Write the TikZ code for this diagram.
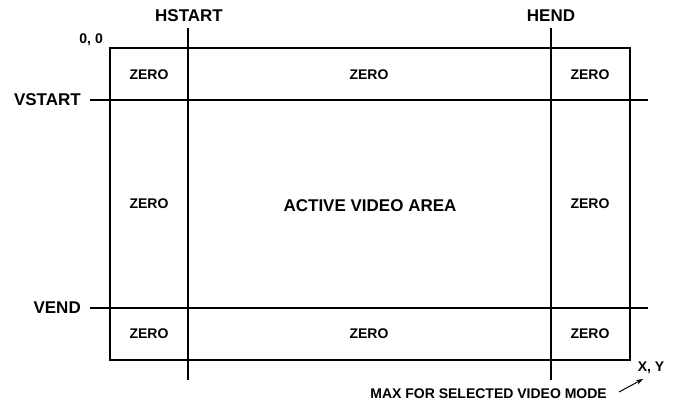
\documentclass[tikz,border=0pt]{standalone}
\usepackage{fontspec}
\setmainfont{Liberation Sans}
\usetikzlibrary{arrows.meta}
\begin{document}
\begin{tikzpicture}[x=1pt,y=-1pt,
  big/.style={font=\fontsize{17}{19}\selectfont\bfseries, inner sep=0pt},
  small/.style={font=\fontsize{14}{16}\selectfont\bfseries, inner sep=0pt},
  gridline/.style={line width=1.3pt},
  frame/.style={line width=1.8pt}]
\useasboundingbox (0,0) rectangle (676,405);
% frame
\draw[frame] (110,48) rectangle (630,360);
% coordinates for lines
\coordinate (hs1) at (188,28); \coordinate (hs2) at (188,380);
\coordinate (he1) at (551,28); \coordinate (he2) at (551,380);
\coordinate (vs1) at (90,100); \coordinate (vs2) at (648,100);
\coordinate (ve1) at (90,308); \coordinate (ve2) at (648,308);
\draw[gridline] (hs1) -- (hs2);
\draw[gridline] (he1) -- (he2);
\draw[gridline] (vs1) -- (vs2);
\draw[gridline] (ve1) -- (ve2);
% labels
\node[big] (hstart) at (189,16) {HSTART};
\node[big] (hend) at (551,16) {HEND};
\node[big, anchor=east] (vstart) at (81,100) {VSTART};
\node[big, anchor=east] (vend) at (81,308) {VEND};
\node[small, anchor=east] (origin) at (103,40) {0, 0};
% cells
\node[small] (z11) at (149,75) {ZERO};
\node[small] (z12) at (369,75) {ZERO};
\node[small] (z13) at (590,75) {ZERO};
\node[small] (z21) at (149,204) {ZERO};
\node[big] (act) at (370,206) {ACTIVE VIDEO AREA};
\node[small] (z23) at (590,204) {ZERO};
\node[small] (z31) at (149,334) {ZERO};
\node[small] (z32) at (369,334) {ZERO};
\node[small] (z33) at (590,334) {ZERO};
% max
\node[small] (xy) at (651,368) {X, Y};
\node[small, anchor=east] (max) at (607,394) {MAX FOR SELECTED VIDEO MODE};
\coordinate (a1) at (619,392);
\coordinate (a2) at (643,379);
\draw[line width=1pt, -{Stealth[length=7pt,width=5pt]}] (a1) -- (a2);
\end{tikzpicture}
\end{document}
